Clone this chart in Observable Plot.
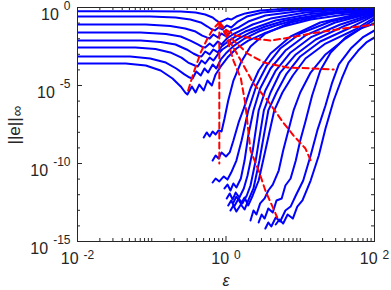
<!DOCTYPE html>
<html><head><meta charset="utf-8">
<script src="https://cdn.jsdelivr.net/npm/d3@7"></script>
<script src="https://cdn.jsdelivr.net/npm/@observablehq/plot@0.6"></script>
<style>body{margin:0;background:#fff;}</style>
</head><body><div id="chart"></div>
<script>
// values stored as log10(epsilon) and log10(||e||_inf)
const upperLogEps = [
  [-2,-1.02,-0.61,-0.41,-0.28,-0.18,-0.13,-0.09,-0.03,0.02,0.07,0.14,0.26,0.46,0.87,1.41,2.0],
  [-2,-1.02,-0.68,-0.48,-0.34,-0.25,-0.20,-0.15,-0.10,-0.05,0.01,0.07,0.16,0.28,0.49,0.94,1.47,2.0],
  [-2,-1.08,-0.75,-0.55,-0.41,-0.32,-0.26,-0.22,-0.17,-0.11,-0.06,0.01,0.07,0.17,0.30,0.53,1.0,1.54,2.0],
  [-2,-1.15,-0.81,-0.61,-0.48,-0.38,-0.32,-0.28,-0.22,-0.17,-0.11,-0.06,0.01,0.09,0.20,0.36,0.60,1.07,1.61,2.0],
  [-2,-1.15,-0.88,-0.68,-0.53,-0.44,-0.37,-0.33,-0.28,-0.22,-0.17,-0.11,-0.06,0.01,0.11,0.26,0.44,0.67,1.14,1.68,2.0],
  [-2,-1.22,-0.95,-0.75,-0.60,-0.51,-0.42,-0.38,-0.33,-0.28,-0.22,-0.17,-0.11,-0.05,0.05,0.17,0.33,0.53,0.80,1.27,1.74,2.0],
  [-2,-1.29,-1.02,-0.81,-0.67,-0.56,-0.49,-0.45,-0.40,-0.34,-0.29,-0.24,-0.18,-0.13,-0.07,0.01,0.11,0.25,0.44,0.67,1.0,1.47,2.0],
  [-2,-1.35,-1.08,-0.88,-0.72,-0.61,-0.55,-0.52,-0.46,-0.41,-0.36,-0.30,-0.25,-0.19,-0.14,-0.07,0.02,0.14,0.30,0.51,0.77,1.14,1.61,2.0]
];
const upperLogErr = [
  [-0.24,-0.24,-0.26,-0.32,-0.45,-0.64,-0.83,-0.96,-0.83,-0.71,-0.77,-0.58,-0.38,-0.19,-0.06,-0.02,-0.01],
  [-0.58,-0.58,-0.64,-0.77,-0.96,-1.22,-1.38,-1.47,-1.28,-1.41,-1.15,-1.28,-0.90,-0.58,-0.32,-0.13,-0.03,-0.01],
  [-1.09,-1.09,-1.19,-1.35,-1.54,-1.80,-1.92,-1.99,-1.73,-1.92,-1.67,-1.86,-1.47,-1.28,-0.90,-0.51,-0.22,-0.10,-0.06],
  [-1.60,-1.60,-1.70,-1.86,-2.12,-2.37,-2.53,-2.56,-2.31,-2.50,-2.18,-2.37,-1.99,-1.73,-1.47,-1.09,-0.71,-0.32,-0.13,-0.10],
  [-2.12,-2.12,-2.21,-2.37,-2.69,-2.95,-3.11,-3.14,-2.82,-3.01,-2.69,-2.88,-2.50,-2.24,-1.92,-1.54,-1.22,-0.83,-0.42,-0.19,-0.13],
  [-2.56,-2.56,-2.66,-2.88,-3.21,-3.53,-3.72,-3.78,-3.40,-3.59,-3.21,-3.40,-3.01,-2.69,-2.37,-1.99,-1.60,-1.22,-0.83,-0.45,-0.22,-0.19],
  [-3.14,-3.14,-3.27,-3.53,-3.91,-4.29,-4.49,-4.55,-4.10,-4.36,-3.91,-4.17,-3.65,-3.91,-3.33,-2.88,-2.44,-1.99,-1.54,-1.15,-0.71,-0.38,-0.22],
  [-3.59,-3.59,-3.72,-4.04,-4.55,-5.06,-5.45,-5.58,-5.06,-5.45,-4.94,-5.32,-4.68,-5.00,-4.29,-3.78,-3.21,-2.63,-2.12,-1.67,-1.22,-0.77,-0.45,-0.29]
];
const lowerLogEps = [
  [-0.30,-0.26,-0.22,-0.18,-0.14,-0.10,-0.06,-0.02,0.03,0.10,0.20,0.33,0.53,0.87,1.41,2.0],
  [-0.18,-0.14,-0.10,-0.06,0.00,0.05,0.10,0.17,0.24,0.33,0.44,0.60,0.87,1.27,2.0],
  [-0.18,-0.14,-0.09,-0.03,0.02,0.07,0.14,0.21,0.30,0.41,0.55,0.73,1.0,1.41,2.0],
  [-0.02,0.02,0.06,0.10,0.14,0.20,0.25,0.30,0.37,0.46,0.60,0.80,1.07,1.47,2.0],
  [0.01,0.05,0.09,0.13,0.18,0.24,0.29,0.36,0.44,0.53,0.67,0.87,1.14,1.54,2.0],
  [0.03,0.07,0.11,0.17,0.22,0.28,0.33,0.40,0.51,0.60,0.73,0.94,1.21,1.61,2.0],
  [0.06,0.10,0.14,0.20,0.25,0.30,0.37,0.45,0.57,0.68,0.81,1.0,1.27,1.68,2.0],
  [0.10,0.14,0.20,0.25,0.30,0.36,0.44,0.53,0.65,0.76,0.90,1.07,1.34,1.74,2.0],
  [0.33,0.37,0.41,0.46,0.52,0.57,0.63,0.71,0.77,0.84,0.91,1.0,1.14,1.34,1.61,2.0],
  [0.44,0.48,0.52,0.57,0.63,0.68,0.75,0.80,0.87,0.94,1.0,1.07,1.16,1.27,1.41,1.61,1.81,2.0],
  [0.53,0.57,0.61,0.67,0.73,0.80,0.87,0.94,1.04,1.14,1.23,1.34,1.43,1.52,1.68,1.84,2.0],
  [0.67,0.72,0.77,0.83,0.90,0.96,1.03,1.14,1.25,1.34,1.45,1.56,1.65,1.78,1.89,2.0]
];
const lowerLogErr = [
  [-8.33,-8.01,-8.27,-7.95,-8.14,-7.88,-7.95,-7.12,-5.96,-4.68,-3.53,-2.50,-1.67,-0.96,-0.38,-0.06],
  [-9.81,-9.49,-9.68,-9.29,-9.55,-9.29,-8.53,-7.37,-6.47,-5.19,-4.04,-2.95,-1.86,-0.96,-0.19],
  [-11.22,-10.96,-11.15,-10.83,-11.03,-10.58,-9.81,-8.53,-6.60,-5.00,-3.72,-2.63,-1.67,-0.90,-0.26],
  [-11.60,-11.35,-11.73,-11.28,-11.54,-10.96,-9.81,-8.21,-6.60,-5.19,-3.91,-2.76,-1.79,-0.96,-0.32],
  [-12.24,-11.92,-12.31,-11.86,-12.18,-11.60,-10.77,-9.17,-6.60,-5.32,-4.04,-2.88,-1.92,-1.09,-0.38],
  [-12.69,-12.37,-12.76,-12.24,-12.56,-12.05,-11.41,-9.81,-6.60,-5.45,-4.17,-3.01,-2.05,-1.15,-0.45],
  [-13.01,-12.69,-13.08,-12.63,-12.95,-12.37,-11.60,-9.81,-6.60,-5.45,-4.29,-3.14,-2.18,-1.28,-0.51],
  [-12.50,-12.12,-12.56,-12.18,-12.69,-12.05,-11.09,-9.17,-6.60,-5.45,-4.36,-3.27,-2.31,-1.41,-0.64],
  [-13.65,-13.01,-13.27,-12.56,-12.24,-11.73,-11.35,-10.45,-9.17,-7.88,-6.60,-5.45,-4.17,-3.01,-1.99,-0.77],
  [-13.78,-13.27,-13.53,-12.88,-13.14,-12.37,-12.24,-11.41,-10.96,-9.81,-8.53,-7.31,-5.64,-4.04,-2.88,-1.92,-1.35,-1.03],
  [-14.17,-13.78,-14.04,-13.46,-13.72,-13.01,-12.76,-12.05,-11.09,-9.49,-7.88,-6.28,-4.81,-3.65,-2.63,-1.92,-1.47],
  [-13.91,-13.59,-13.85,-13.27,-13.53,-12.76,-12.37,-11.09,-9.49,-7.76,-5.96,-4.55,-3.53,-2.76,-2.24,-1.92]
];
const redLogEps = [
  [-0.51,-0.44,-0.34,-0.25,-0.17,-0.09],
  [-0.09,0.01,0.13,0.36,0.60,0.87,1.14,1.41,1.68,2.0],
  [-0.09,0.06,0.29,0.51,0.83,1.18,1.45],
  [-0.09,-0.09],
  [-0.09,0.0,0.10,0.20,0.26,0.30,0.33,0.44,0.53,0.69],
  [-0.09,0.03,0.20,0.37,0.56,0.77,0.91,1.07,1.14]
];
const redLogErr = [
  [-5.32,-4.23,-2.88,-1.99,-1.35,-0.96],
  [-0.96,-1.47,-1.79,-1.99,-2.12,-1.92,-1.67,-1.47,-1.28,-1.09],
  [-0.96,-1.92,-2.95,-3.53,-3.85,-3.91,-3.97],
  [-0.96,-10.0],
  [-0.96,-1.79,-3.40,-4.55,-6.15,-7.88,-9.17,-10.45,-11.73,-13.46],
  [-0.96,-1.99,-3.40,-4.87,-5.96,-7.37,-8.21,-9.04,-9.81]
];
const xTickExps = [-2, 0, 2];
const yTickExps = [0, -5, -10, -15];
const xLabel = "ε";
const yLabelMain = "||e||";
const yLabelSub = "∞";

// ---- layout ----
const W = 391, H = 290, ML = 77, MR = 17, MT = 7, MB = 49;
const innerW = W - ML - MR, innerH = H - MT - MB;
const axisColor = "#262626";
const FONT = "'Liberation Sans', Arial, Helvetica, sans-serif";

function toRows(xs, ys, prefix) {
  const out = [];
  xs.forEach((xa, i) => xa.forEach((lx, j) => out.push({curve: prefix + i, eps: Math.pow(10, lx), err: Math.pow(10, ys[i][j])})));
  return out;
}
const blueRows = toRows(upperLogEps, upperLogErr, "u").concat(toRows(lowerLogEps, lowerLogErr, "l"));
const redRows = toRows(redLogEps, redLogErr, "r");

const decades = d3.range(-2, 2);
const xMajor = xTickExps.map(e => Math.pow(10, e));
const xMinor = decades.flatMap(k => d3.range(2, 10).map(m => m * Math.pow(10, k))).concat([0.1, 10]);
const yAll = d3.range(-15, 1).map(k => Math.pow(10, k));
const yMajor = yTickExps.map(e => Math.pow(10, e));
const yMinor = yAll.filter(v => !yMajor.includes(v));

const ctx = document.createElement("canvas").getContext("2d");
function tw(s, size) { ctx.font = `${size}px "Liberation Sans"`; return ctx.measureText(s).width; }

const BASE = 16, SUP = 12, GAP = 5;
const labelMarks = [];
xTickExps.forEach(e => {
  const w10 = tw("10", BASE), we = tw(String(e), SUP), total = w10 + GAP + we;
  labelMarks.push(Plot.text([Math.pow(10, e)], {x: d => d, frameAnchor: "bottom", text: () => "10", textAnchor: "start", lineAnchor: "bottom", dx: -total / 2, dy: 22, fontSize: BASE, fill: axisColor}));
  labelMarks.push(Plot.text([Math.pow(10, e)], {x: d => d, frameAnchor: "bottom", text: () => String(e), textAnchor: "start", lineAnchor: "bottom", dx: -total / 2 + w10 + GAP, dy: 17, fontSize: SUP, fill: axisColor}));
});
yTickExps.forEach(e => {
  const we = tw(String(e), SUP);
  labelMarks.push(Plot.text([Math.pow(10, e)], {y: d => d, frameAnchor: "left", text: () => String(e), textAnchor: "end", lineAnchor: "bottom", dx: -7, dy: 2, fontSize: SUP, fill: axisColor}));
  labelMarks.push(Plot.text([Math.pow(10, e)], {y: d => d, frameAnchor: "left", text: () => "10", textAnchor: "end", lineAnchor: "bottom", dx: -7 - we - GAP, dy: 12, fontSize: BASE, fill: axisColor}));
});

const YL_SIZE = 17, YL_X = 14, YL_BOTTOM = 144;
const wMain = tw(yLabelMain, YL_SIZE);
const midY = MT + innerH / 2;

const chart = Plot.plot({
  width: W, height: H,
  marginLeft: ML, marginRight: MR, marginTop: MT, marginBottom: MB,
  x: {type: "log", domain: [1e-2, 1e2], axis: null},
  y: {type: "log", domain: [1e-15, 1], axis: null},
  style: {fontFamily: FONT, background: "#fff", overflow: "visible"},
  marks: [
    Plot.line(blueRows, {x: "eps", y: "err", z: "curve", stroke: "#0000ff", strokeWidth: 2, strokeLinejoin: "round", clip: true}),
    Plot.line(redRows, {x: "eps", y: "err", z: "curve", stroke: "#ff0000", strokeWidth: 2, strokeDasharray: "6,4", clip: true}),
    Plot.frame({stroke: axisColor, strokeWidth: 1}),
    Plot.tickX(xMinor, {x: d => d, stroke: axisColor, insetTop: innerH - 3}),
    Plot.tickX(xMinor, {x: d => d, stroke: axisColor, insetBottom: innerH - 3}),
    Plot.tickX(xMajor, {x: d => d, stroke: axisColor, insetTop: innerH - 5}),
    Plot.tickX(xMajor, {x: d => d, stroke: axisColor, insetBottom: innerH - 5}),
    Plot.tickY(yMinor, {y: d => d, stroke: axisColor, insetRight: innerW - 3}),
    Plot.tickY(yMinor, {y: d => d, stroke: axisColor, insetLeft: innerW - 3}),
    Plot.tickY(yMajor, {y: d => d, stroke: axisColor, insetRight: innerW - 5}),
    Plot.tickY(yMajor, {y: d => d, stroke: axisColor, insetLeft: innerW - 5}),
    ...labelMarks,
    Plot.text([1], {x: d => d, frameAnchor: "bottom", text: () => xLabel, textAnchor: "middle", lineAnchor: "bottom", dy: 44, fontSize: 16, fontStyle: "italic", fill: axisColor}),
    Plot.text([0], {frameAnchor: "left", text: () => yLabelMain, rotate: -90, textAnchor: "start", lineAnchor: "middle", dx: YL_X - ML, dy: YL_BOTTOM - midY, fontSize: YL_SIZE, fill: axisColor}),
    Plot.text([0], {frameAnchor: "left", text: () => yLabelSub, rotate: -90, textAnchor: "start", lineAnchor: "middle", dx: YL_X - ML + 3, dy: YL_BOTTOM - midY - wMain - 1, fontSize: 15, fill: axisColor})
  ]
});
document.getElementById("chart").appendChild(chart);
</script></body></html>
